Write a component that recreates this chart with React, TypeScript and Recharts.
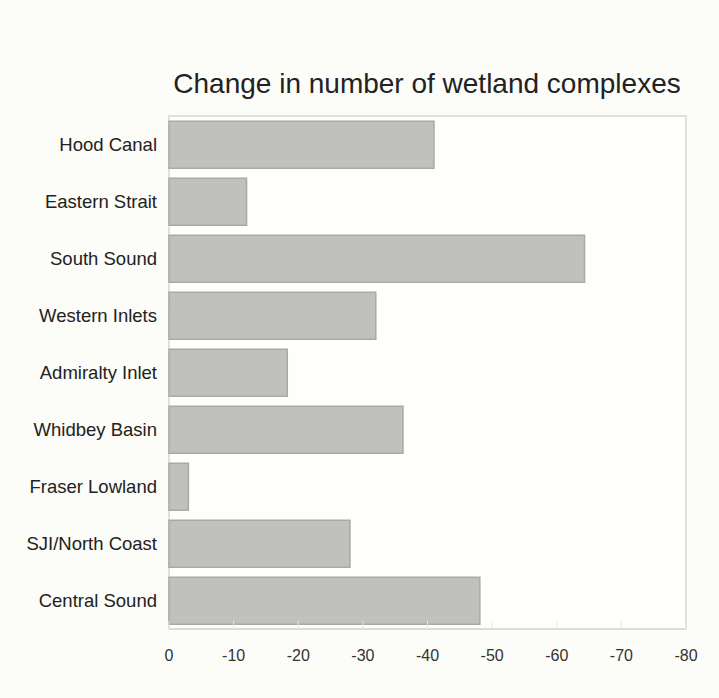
import React from 'react';
import { BarChart, Bar, XAxis, YAxis, ReferenceArea } from 'recharts';

const regions = [
  'Hood Canal',
  'Eastern Strait',
  'South Sound',
  'Western Inlets',
  'Admiralty Inlet',
  'Whidbey Basin',
  'Fraser Lowland',
  'SJI/North Coast',
  'Central Sound',
];
const changeValues = [-41, -12, -64.3, -32, -18.3, -36.2, -3, -28, -48.1];
const xTicks = [0, -10, -20, -30, -40, -50, -60, -70, -80];

const data = regions.map((region, i) => ({ region, change: changeValues[i] }));

const font = '"Liberation Sans", Arial, sans-serif';

export default function App() {
  return (
    <div
      style={{
        position: 'absolute',
        left: 0,
        top: 0,
        width: 719,
        height: 698,
        background: '#fcfcf8',
        fontFamily: font,
      }}
    >
      <div
        style={{
          position: 'absolute',
          left: 167,
          width: 520,
          top: 68,
          textAlign: 'center',
          fontSize: 28,
          color: '#222',
          whiteSpace: 'nowrap',
        }}
      >
        Change in number of wetland complexes
      </div>
      <BarChart
        width={719}
        height={698}
        data={data}
        layout="vertical"
        margin={{ top: 116, right: 33, bottom: 29, left: 0 }}
        barCategoryGap="9%"
        style={{ position: 'absolute', left: 0, top: 0 }}
      >
        <ReferenceArea x1={0} x2={-80} fill="#ffffff" fillOpacity={0.6} stroke="#d6d6d2" strokeWidth={1.5} />
        <XAxis
          type="number"
          domain={[-80, 0]}
          reversed
          ticks={xTicks}
          height={40}
          axisLine={{ stroke: '#d6d6d2' }}
          tickLine={{ stroke: '#e6e6e2' }}
          tickSize={-8}
          tickMargin={29}
          tick={{ fill: '#333', fontSize: 16, fontFamily: font }}
        />
        <YAxis
          type="category"
          dataKey="region"
          width={169}
          axisLine={false}
          tickLine={false}
          tickMargin={6}
          tick={{ fill: '#222', fontSize: 18.5, fontFamily: font }}
        />
        <Bar
          dataKey="change"
          fill="#c0c0bc"
          stroke="#a9a9a5"
          strokeWidth={1.5}
          isAnimationActive={false}
        />
      </BarChart>
    </div>
  );
}
